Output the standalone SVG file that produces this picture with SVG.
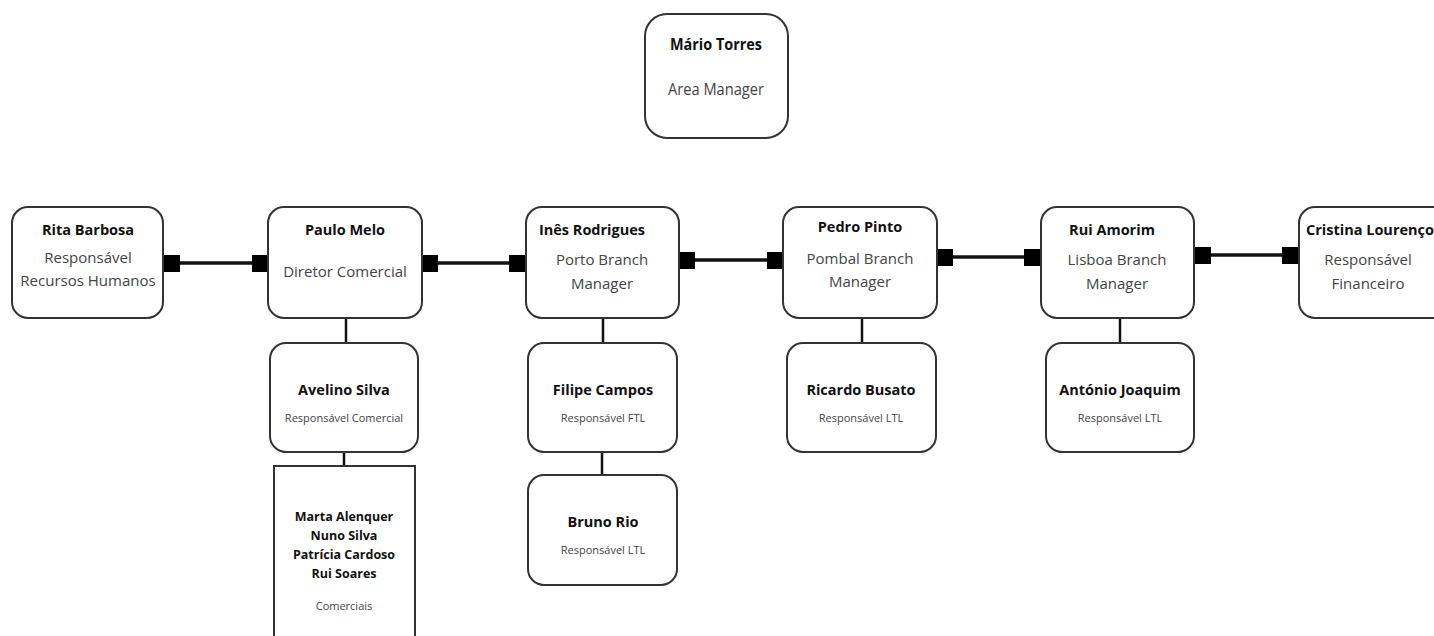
<svg xmlns="http://www.w3.org/2000/svg" width="1434" height="636" viewBox="0 0 1434 636">
<style>
.box{fill:#fff;stroke:#333;stroke-width:2}
.nm{font-family:"Open Sans","Noto Sans",sans-serif;font-weight:bold;fill:#111;text-anchor:middle}
.rl{font-family:"Open Sans","Noto Sans",sans-serif;fill:#444;text-anchor:middle}
.ln{stroke:#111;stroke-width:3.5;fill:none}
.vl{stroke:#111;stroke-width:2.5;fill:none}
.sq{fill:#000}
</style>
<rect width="1434" height="636" fill="#fff"/>
<g id="connectors">
<line class="ln" x1="180" y1="263" x2="253" y2="263"/>
<rect class="sq" x="164" y="255" width="16" height="17"/>
<rect class="sq" x="252" y="255" width="16" height="17"/>
<line class="ln" x1="438" y1="263" x2="509" y2="263"/>
<rect class="sq" x="422" y="255" width="16" height="17"/>
<rect class="sq" x="509" y="255" width="16" height="17"/>
<line class="ln" x1="695" y1="260" x2="768" y2="260"/>
<rect class="sq" x="679" y="252" width="16" height="17"/>
<rect class="sq" x="767" y="252" width="16" height="17"/>
<line class="ln" x1="953" y1="257" x2="1025" y2="257"/>
<rect class="sq" x="937" y="249" width="16" height="17"/>
<rect class="sq" x="1024" y="249" width="16" height="17"/>
<line class="ln" x1="1211" y1="255" x2="1283" y2="255"/>
<rect class="sq" x="1195" y="247" width="16" height="17"/>
<rect class="sq" x="1282" y="247" width="16" height="17"/>
<line class="vl" x1="346" y1="318" x2="346" y2="343"/>
<line class="vl" x1="344" y1="452" x2="344" y2="466"/>
<line class="vl" x1="603" y1="318" x2="603" y2="343"/>
<line class="vl" x1="602" y1="452" x2="602" y2="475"/>
<line class="vl" x1="862" y1="318" x2="862" y2="343"/>
<line class="vl" x1="1120" y1="318" x2="1120" y2="343"/>
</g>
<g id="mario">
<rect class="box" x="645" y="14" width="143" height="124" rx="22"/>
<text class="nm" x="716" y="50" font-size="16" textLength="92" lengthAdjust="spacingAndGlyphs">Mário Torres</text>
<text class="rl" x="716" y="95" font-size="16" textLength="96" lengthAdjust="spacingAndGlyphs">Area Manager</text>
</g>
<g id="rita">
<rect class="box" x="12" y="207" width="151" height="111" rx="16"/>
<text class="nm" x="88" y="235" font-size="14.5">Rita Barbosa</text>
<text class="rl" x="88" y="263" font-size="15">Responsável</text>
<text class="rl" x="88" y="286" font-size="15">Recursos Humanos</text>
</g>
<g id="paulo">
<rect class="box" x="268" y="207" width="154" height="111" rx="16"/>
<text class="nm" x="345" y="235" font-size="14.5">Paulo Melo</text>
<text class="rl" x="345" y="277" font-size="15">Diretor Comercial</text>
</g>
<g id="ines">
<rect class="box" x="526" y="207" width="153" height="111" rx="16"/>
<text class="nm" x="592" y="235" font-size="14.5">Inês Rodrigues</text>
<text class="rl" x="602" y="265" font-size="15">Porto Branch</text>
<text class="rl" x="602" y="289" font-size="15">Manager</text>
</g>
<g id="pedro">
<rect class="box" x="783" y="207" width="154" height="111" rx="16"/>
<text class="nm" x="860" y="232" font-size="14.5">Pedro Pinto</text>
<text class="rl" x="860" y="264" font-size="15">Pombal Branch</text>
<text class="rl" x="860" y="287" font-size="15">Manager</text>
</g>
<g id="rui">
<rect class="box" x="1041" y="207" width="153" height="111" rx="16"/>
<text class="nm" x="1112" y="235" font-size="14.5">Rui Amorim</text>
<text class="rl" x="1117" y="265" font-size="15">Lisboa Branch</text>
<text class="rl" x="1117" y="289" font-size="15">Manager</text>
</g>
<g id="cristina">
<rect class="box" x="1299" y="207" width="150" height="111" rx="16"/>
<text class="nm" x="1370" y="235" font-size="14.5">Cristina Lourenço</text>
<text class="rl" x="1368" y="265" font-size="15">Responsável</text>
<text class="rl" x="1368" y="289" font-size="15">Financeiro</text>
</g>
<g id="avelino">
<rect class="box" x="270" y="343" width="148" height="109" rx="16"/>
<text class="nm" x="344" y="395" font-size="14.5">Avelino Silva</text>
<text class="rl" x="344" y="422" font-size="11">Responsável Comercial</text>
</g>
<g id="comerciais">
<rect class="box" x="274" y="466" width="141" height="180"/>
<text class="nm" x="344" y="521" font-size="12.5">Marta Alenquer</text>
<text class="nm" x="344" y="540" font-size="12.5">Nuno Silva</text>
<text class="nm" x="344" y="559" font-size="12.5">Patrícia Cardoso</text>
<text class="nm" x="344" y="578" font-size="12.5">Rui Soares</text>
<text class="rl" x="344" y="610" font-size="11">Comerciais</text>
</g>
<g id="filipe">
<rect class="box" x="528" y="343" width="149" height="109" rx="16"/>
<text class="nm" x="603" y="395" font-size="14.5">Filipe Campos</text>
<text class="rl" x="603" y="422" font-size="11">Responsável FTL</text>
</g>
<g id="bruno">
<rect class="box" x="528" y="475" width="149" height="110" rx="16"/>
<text class="nm" x="603" y="527" font-size="14.5">Bruno Rio</text>
<text class="rl" x="603" y="554" font-size="11">Responsável LTL</text>
</g>
<g id="ricardo">
<rect class="box" x="787" y="343" width="149" height="109" rx="16"/>
<text class="nm" x="861" y="395" font-size="14.5">Ricardo Busato</text>
<text class="rl" x="861" y="422" font-size="11">Responsável LTL</text>
</g>
<g id="antonio">
<rect class="box" x="1046" y="343" width="148" height="109" rx="16"/>
<text class="nm" x="1120" y="395" font-size="14.5">António Joaquim</text>
<text class="rl" x="1120" y="422" font-size="11">Responsável LTL</text>
</g>
</svg>
